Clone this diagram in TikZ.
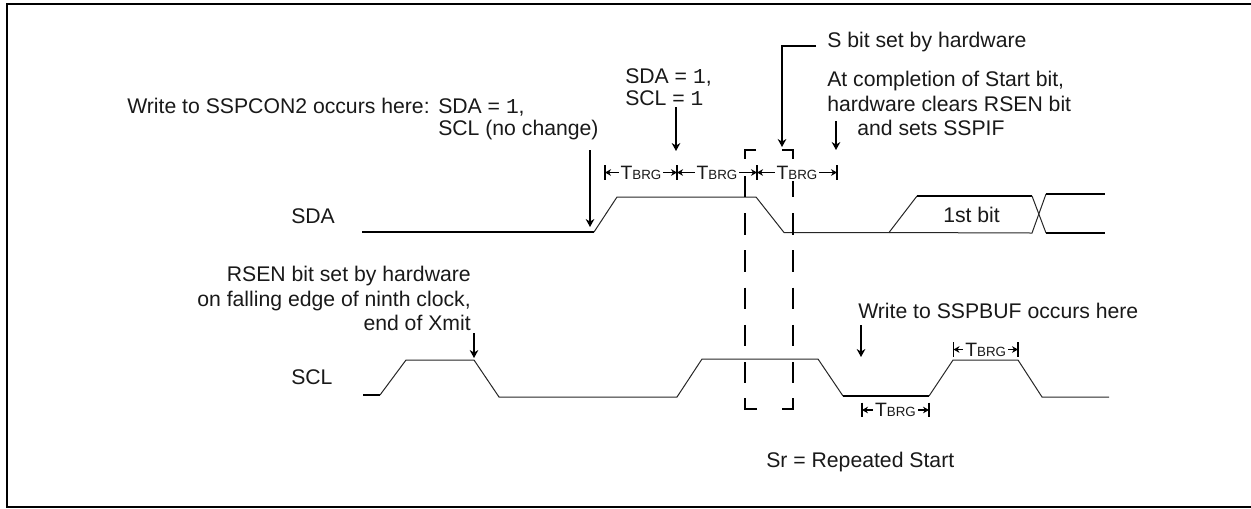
\documentclass[tikz,border=0pt]{standalone}
\usepackage{fontspec}
\setmainfont{Liberation Sans}
\newfontfamily\monofnt{Liberation Mono}
\usetikzlibrary{arrows.meta}
\newcommand{\tbrg}{{\fontsize{14.5}{16}\selectfont T}{\fontsize{10}{12}\selectfont BRG}}
\newcommand{\one}{{\monofnt 1}}
\tikzset{
  lbl/.style={inner sep=0pt,font=\fontsize{15.9}{18}\selectfont,text=black!90},
  lblL/.style={lbl,anchor=base west},
  lblR/.style={lbl,anchor=base east},
  sig/.style={line width=0.75pt,black!85,line join=miter},
  sigb/.style={line width=1.3pt},
  callout/.style={line width=1.3pt,-{Stealth[length=6pt,width=6.5pt]}},
  dim/.style={line width=1pt,{Stealth[length=4.5pt,width=5pt]}-{Stealth[length=4.5pt,width=5pt]}},
  tick/.style={line width=1.2pt},
  dimlabel/.style={fill=white,inner sep=1.5pt,text=black!90},
  srbox/.style={line width=1.2pt},
  srdash/.style={srbox,dash pattern=on 16.1pt off 11.8pt},
  frame/.style={line width=1.5pt}
}
\begin{document}
\begin{tikzpicture}[x=0.75pt,y=-0.75pt]
\useasboundingbox (0,0) rectangle (1251,508);
\draw[frame] (1251,4) -- (7,4) -- (7,507) -- (1251,507);
% SDA
\node[lblL] (sdaL) at (291,223) {SDA};
\coordinate (a0) at (362,232);
\coordinate (a1) at (594,232);
\coordinate (a2) at (617,197);
\coordinate (a3) at (756,197);
\coordinate (a4) at (784,232.5);
\coordinate (a5) at (889,232.5);
\coordinate (a6) at (917,196);
\coordinate (a7) at (1032,196);
\coordinate (a8) at (1046,233);
\coordinate (a9) at (1105,233);
\coordinate (b6) at (1032,233);
\coordinate (b7) at (1046,194);
\coordinate (b8) at (1105,194);
\draw[sigb] (a0) -- (a1);
\draw[sig] (a1) -- (a2) -- (a3) -- (a4) -- (a5) -- (a6);
\draw[sigb] (a6) -- (a7);
\draw[sig] (a7) -- (a8);
\draw[sig] (a5) -- (b6) -- (b7);
\draw[sigb] (b7) -- (b8);
\draw[sigb] (a8) -- (a9);
\node[lblL] (bit) at (943,222) {1st bit};
% SCL
\node[lblL] (sclL) at (291,384) {SCL};
\coordinate (c0) at (363,395);
\coordinate (c1) at (380,395);
\coordinate (c2) at (406,360);
\coordinate (c3) at (474,360);
\coordinate (c4) at (499,397);
\coordinate (c5) at (677,397);
\coordinate (c6) at (702,359);
\coordinate (c7) at (818,359);
\coordinate (c8) at (843,396);
\coordinate (c9) at (929,396);
\coordinate (c10) at (953,360);
\coordinate (c11) at (1018,360);
\coordinate (c12) at (1042,397);
\coordinate (c13) at (1109,397);
\draw[sigb] (c0) -- (c1);
\draw[sig] (c1) -- (c2) -- (c3) -- (c4) -- (c5) -- (c6) -- (c7) -- (c8);
\draw[sigb] (c8) -- (c9);
\draw[sig] (c9) -- (c10) -- (c11) -- (c12) -- (c13);
% Sr box
\coordinate (s1) at (756,150);
\coordinate (s2) at (745,150);
\coordinate (s3) at (745,409);
\coordinate (s4) at (757,409);
\coordinate (s5) at (782,409);
\coordinate (s6) at (793,409);
\coordinate (s7) at (793,150);
\coordinate (s8) at (782,150);
\draw[srbox] (s1) -- (s2) -- (745,159);
\draw[srbox] (s8) -- (s7) -- (793,159);
\draw[srbox] (s4) -- (s3) -- (745,398);
\draw[srbox] (s5) -- (s6) -- (793,398);
\draw[srdash] (745,176) -- (745,384);
\draw[srdash] (793,176) -- (793,384);
% Labels
\node[lblL] (wr) at (127,113) {Write to SSPCON2 occurs here:};
\node[lblL] (wr2) at (438,113) {SDA = \one,};
\node[lblL] (nc) at (438,135) {SCL (no change)};
\node[lblL] (e1) at (625,83) {SDA = \one,};
\node[lblL] (e2) at (625,105) {SCL = \one};
\node[lblL] (sb) at (827,47) {S bit set by hardware};
\node[lblL] (at1) at (827,86) {At completion of Start bit,};
\node[lblL] (at2) at (827,111) {hardware clears RSEN bit};
\node[lblL] (at3) at (857,135) {and sets SSPIF};
\node[lblR] (rs1) at (471,281) {RSEN bit set by hardware};
\node[lblR] (rs2) at (471,306) {on falling edge of ninth clock,};
\node[lblR] (rs3) at (471,330) {end of Xmit};
\node[lblL] (wb) at (858,318) {Write to SSPBUF occurs here};
\node[lblL] (sr) at (766,467) {Sr = Repeated Start};
% Callouts
\coordinate (k1s) at (590,150); \coordinate (k1e) at (590,227);
\coordinate (k2s) at (676,107); \coordinate (k2e) at (676,151);
\coordinate (k3s) at (816,46); \coordinate (k3m) at (782,46); \coordinate (k3e) at (782,147);
\coordinate (k4s) at (836,121); \coordinate (k4e) at (836,150);
\coordinate (k5s) at (474,333); \coordinate (k5e) at (474,358);
\coordinate (k6s) at (861,325); \coordinate (k6e) at (861,357);
\draw[callout] (k1s) -- (k1e);
\draw[callout] (k2s) -- (k2e);
\draw[callout] (k3s) -- (k3m) -- (k3e);
\draw[callout] (k4s) -- (k4e);
\draw[callout] (k5s) -- (k5e);
\draw[callout] (k6s) -- (k6e);
% Dimensions
\coordinate (d1) at (605,172.5); \coordinate (d2) at (677,172.5);
\coordinate (d3) at (757,172.5); \coordinate (d4) at (837,172.5);
\coordinate (d5) at (862,410); \coordinate (d6) at (929,410);
\coordinate (d7) at (953.5,349.5); \coordinate (d8) at (1018,349.5);
\foreach \p in {d1,d2,d3,d4,d5,d6,d7,d8}
  \draw[tick] ([yshift=5.5pt]\p) -- ([yshift=-5.5pt]\p);
\draw[dim] (d1) -- node[dimlabel] (t1) {\tbrg} (d2);
\draw[dim] (d2) -- node[dimlabel] (t2) {\tbrg} (d3);
\draw[dim] (d3) -- node[dimlabel] (t3) {\tbrg} (d4);
\draw[dim] (d5) -- node[dimlabel] (t4) {\tbrg} (d6);
\draw[dim] (d7) -- node[dimlabel] (t5) {\tbrg} (d8);
\end{tikzpicture}
\end{document}
